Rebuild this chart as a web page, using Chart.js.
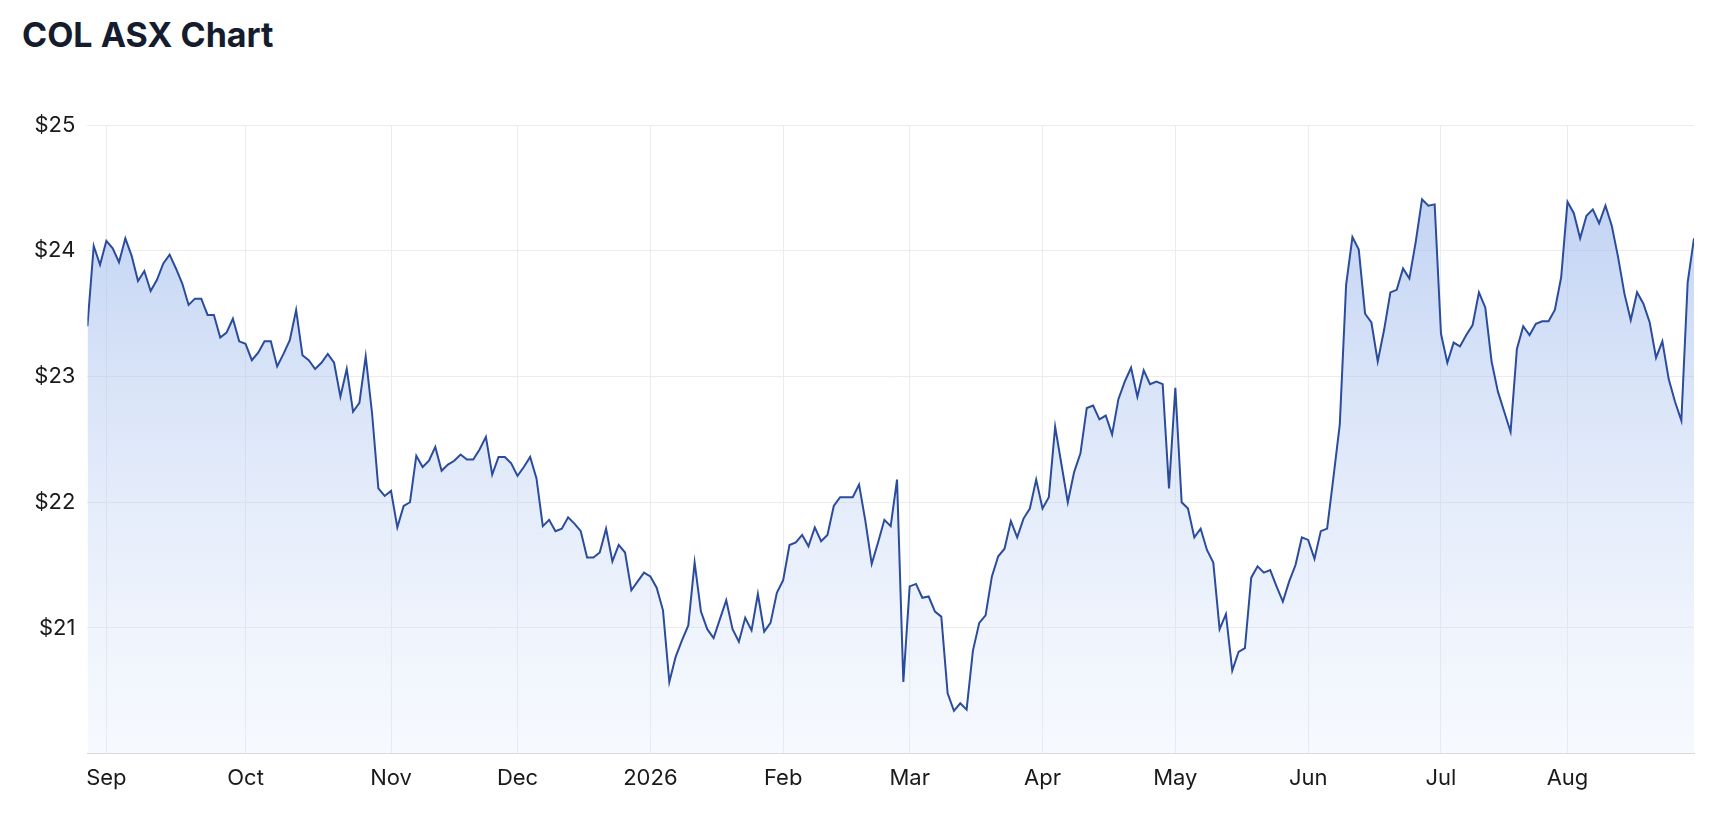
<!DOCTYPE html>
<html><head><meta charset="utf-8">
<script src="https://cdn.jsdelivr.net/npm/chart.js@4"></script>
<style>
html,body{margin:0;padding:0;background:#fff;width:1716px;height:820px;overflow:hidden;font-family:"Inter","Liberation Sans",sans-serif}
h1{position:absolute;left:22px;top:14px;margin:0;font-size:34px;font-weight:700;color:#141c2e}
#wrap{position:absolute;left:0;top:100px;width:1716px;height:720px}
</style></head><body>
<h1>COL ASX Chart</h1>
<div id="wrap"><canvas id="c"></canvas></div>
<script>
const prices = [
23.40,24.04,23.89,24.08,24.02,23.91,24.10,23.96,23.76,23.84,
23.68,23.77,23.90,23.97,23.86,23.74,23.57,23.62,23.62,23.49,
23.49,23.31,23.35,23.46,23.28,23.26,23.13,23.19,23.28,23.28,
23.08,23.18,23.29,23.53,23.17,23.13,23.06,23.11,23.18,23.11,
22.84,23.06,22.72,22.79,23.16,22.71,22.11,22.05,22.09,21.80,
21.97,22.00,22.37,22.28,22.33,22.44,22.25,22.30,22.33,22.38,
22.34,22.34,22.42,22.52,22.22,22.36,22.36,22.31,22.21,22.28,
22.36,22.19,21.81,21.86,21.77,21.79,21.88,21.83,21.77,21.56,
21.56,21.60,21.79,21.53,21.66,21.60,21.30,21.37,21.44,21.41,21.32,
21.14,20.57,20.77,20.90,21.02,21.52,21.13,20.99,20.92,21.07,21.22,20.99,20.89,21.08,20.98,21.27,20.97,21.04,21.28,21.38,21.66,21.68,21.74,21.65,21.80,21.69,21.74,
21.97,22.04,22.04,22.04,22.14,21.85,21.51,21.68,21.86,21.81,22.18,20.57,21.33,21.35,21.24,21.25,21.13,21.09,20.48,20.34,20.40,20.35,20.82,21.04,21.10,21.41,21.57,21.63,21.85,21.72,21.87,21.95,22.18,21.95,22.04,22.60,22.30,22.00,
22.24,22.39,22.75,22.77,22.66,22.69,22.54,22.82,22.96,23.07,22.84,23.05,22.94,22.96,22.94,22.11,22.91,22.00,21.95,21.72,21.79,21.62,21.52,20.99,21.11,20.66,20.81,20.84,21.40,21.49,21.44,21.46,21.33,21.21,21.37,21.50,21.72,21.70,21.55,21.77,
21.79,22.20,22.62,
23.73,24.11,24.01,23.50,23.43,23.12,23.37,23.67,23.69,23.86,23.78,24.07,24.41,24.36,24.37,23.34,23.11,23.27,23.24,23.33,23.41,23.67,23.55,23.12,22.88,22.72,22.56,23.22,23.40,23.33,23.42,23.44,23.44,23.53,23.79,
24.39,24.30,24.10,24.28,24.33,24.22,24.36,24.20,23.95,23.66,23.45,23.67,23.58,23.43,23.15,23.28,22.98,22.80,22.65,23.75,24.10
];
const monthLabels = ['Sep','Oct','Nov','Dec','2026','Feb','Mar','Apr','May','Jun','Jul','Aug'];
const monthStartIndex = [3,25,48,68,89,110,130,151,172,193,214,234];
const yTicks = [21,22,23,24,25];

const pts = prices.map((v,i)=>({x:i,y:v}));
const ctx = document.getElementById('c').getContext('2d');
new Chart(ctx,{
  type:'line',
  data:{datasets:[{
    data:pts,
    borderColor:'#2b4c9c',
    borderWidth:2,
    pointRadius:0,
    tension:0,
    fill:'start',
    backgroundColor:(c)=>{
      const a=c.chart.chartArea; if(!a) return 'rgba(120,160,230,0.4)';
      const g=c.chart.ctx.createLinearGradient(0,a.top,0,a.bottom);
      g.addColorStop(0,'rgba(140,172,232,0.62)');
      g.addColorStop(1,'rgba(215,228,250,0.22)');
      return g;
    }
  }]},
  options:{
    responsive:true,maintainAspectRatio:false,animation:false,
    layout:{padding:{top:21,right:22,bottom:16,left:22}},
    plugins:{legend:{display:false},tooltip:{enabled:false}},
    scales:{
      x:{type:'linear',min:0,max:prices.length-1,
        afterBuildTicks:(s)=>{s.ticks=monthStartIndex.map(v=>({value:v}));},
        ticks:{autoSkip:false,maxRotation:0,font:{size:22,family:'Inter, Liberation Sans, sans-serif'},color:'#1a1a1a',padding:12,
          callback:(v)=>{const k=monthStartIndex.indexOf(v);return k>=0?monthLabels[k]:'';}},
        grid:{color:'#ececef',drawTicks:false},border:{color:'#d8d8dc'}},
      y:{min:20,max:25,
        afterBuildTicks:(s)=>{s.ticks=[20].concat(yTicks).map(v=>({value:v}));},
        ticks:{font:{size:22,family:'Inter, Liberation Sans, sans-serif'},color:'#1a1a1a',padding:12,
          callback:(v)=>v===20?'':'$'+v},
        grid:{color:'#ececef',drawTicks:false},border:{display:false}}
    }
  }
});
</script></body></html>
